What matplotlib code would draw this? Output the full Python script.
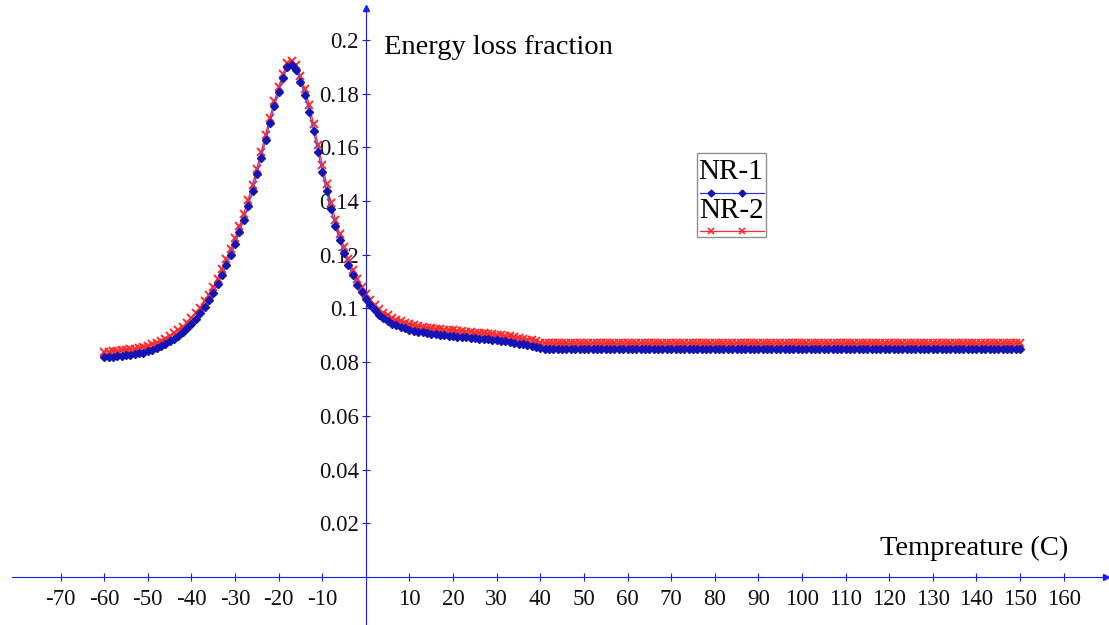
import numpy as np
import matplotlib.pyplot as plt
from matplotlib.lines import Line2D
from matplotlib.patches import Rectangle

plt.rcParams['font.family'] = ['Liberation Serif', 'DejaVu Serif']

# temperature grid, one reading per degree
temps = np.arange(-60, 151)

nr1 = [
    0.0818, 0.0819, 0.0821, 0.0822, 0.0824, 0.0826, 0.0828, 0.0830, 0.0833, 0.0836,
    0.0840, 0.0846, 0.0853, 0.0860, 0.0868, 0.0877, 0.0887, 0.0899, 0.0912, 0.0927,
    0.0944, 0.0962, 0.0982, 0.1005, 0.1030, 0.1059, 0.1090, 0.1125, 0.1162, 0.1198,
    0.1240, 0.1284, 0.1331, 0.1383, 0.1439, 0.1500, 0.1562, 0.1628, 0.1692, 0.1753,
    0.1808, 0.1859, 0.1898, 0.1908, 0.1888, 0.1845, 0.1795, 0.1733, 0.1660, 0.1584,
    0.1510, 0.1436, 0.1369, 0.1307, 0.1254, 0.1206, 0.1162, 0.1124, 0.1088, 0.1060,
    0.1035, 0.1012, 0.0993, 0.0977, 0.0964, 0.0953, 0.0944, 0.0937, 0.0931, 0.0926,
    0.0921, 0.0917, 0.0914, 0.0911, 0.0908, 0.0906, 0.0904, 0.0902, 0.0900, 0.0898,
    0.0897, 0.0895, 0.0894, 0.0892, 0.0891, 0.0889, 0.0888, 0.0886, 0.0885, 0.0883,
    0.0881, 0.0879, 0.0877, 0.0875, 0.0872, 0.0869, 0.0866, 0.0863, 0.0862, 0.0857,
    0.0852,
    0.0850, 0.0850, 0.0850, 0.0850, 0.0850, 0.0850, 0.0850, 0.0850, 0.0850, 0.0850,
    0.0850, 0.0850, 0.0850, 0.0850, 0.0850, 0.0850, 0.0850, 0.0850, 0.0850, 0.0850,
    0.0850, 0.0850, 0.0850, 0.0850, 0.0850, 0.0850, 0.0850, 0.0850, 0.0850, 0.0850,
    0.0850, 0.0850, 0.0850, 0.0850, 0.0850, 0.0850, 0.0850, 0.0850, 0.0850, 0.0850,
    0.0850, 0.0850, 0.0850, 0.0850, 0.0850, 0.0850, 0.0850, 0.0850, 0.0850, 0.0850,
    0.0850, 0.0850, 0.0850, 0.0850, 0.0850, 0.0850, 0.0850, 0.0850, 0.0850, 0.0850,
    0.0850, 0.0850, 0.0850, 0.0850, 0.0850, 0.0850, 0.0850, 0.0850, 0.0850, 0.0850,
    0.0850, 0.0850, 0.0850, 0.0850, 0.0850, 0.0850, 0.0850, 0.0850, 0.0850, 0.0850,
    0.0850, 0.0850, 0.0850, 0.0850, 0.0850, 0.0850, 0.0850, 0.0850, 0.0850, 0.0850,
    0.0850, 0.0850, 0.0850, 0.0850, 0.0850, 0.0850, 0.0850, 0.0850, 0.0850, 0.0850,
    0.0850, 0.0850, 0.0850, 0.0850, 0.0850, 0.0850, 0.0850, 0.0850, 0.0850, 0.0850,
]

nr2 = [
    0.0838, 0.0839, 0.0841, 0.0842, 0.0844, 0.0846, 0.0848, 0.0850, 0.0853, 0.0856,
    0.0860, 0.0866, 0.0873, 0.0880, 0.0888, 0.0897, 0.0907, 0.0919, 0.0932, 0.0947,
    0.0964, 0.0982, 0.1003, 0.1026, 0.1051, 0.1080, 0.1111, 0.1146, 0.1183, 0.1220,
    0.1262, 0.1306, 0.1353, 0.1405, 0.1461, 0.1521, 0.1583, 0.1648, 0.1711, 0.1771,
    0.1825, 0.1875, 0.1913, 0.1923, 0.1906, 0.1866, 0.1818, 0.1758, 0.1686, 0.1610,
    0.1536, 0.1462, 0.1394, 0.1331, 0.1277, 0.1228, 0.1184, 0.1145, 0.1109, 0.1080,
    0.1055, 0.1033, 0.1014, 0.0998, 0.0985, 0.0974, 0.0965, 0.0958, 0.0952, 0.0947,
    0.0942, 0.0938, 0.0935, 0.0932, 0.0929, 0.0927, 0.0925, 0.0923, 0.0921, 0.0919,
    0.0918, 0.0916, 0.0915, 0.0913, 0.0912, 0.0910, 0.0909, 0.0907, 0.0906, 0.0904,
    0.0902, 0.0900, 0.0898, 0.0896, 0.0893, 0.0890, 0.0887, 0.0884, 0.0882, 0.0877,
    0.0873,
    0.0870, 0.0870, 0.0870, 0.0870, 0.0870, 0.0870, 0.0870, 0.0870, 0.0870, 0.0870,
    0.0870, 0.0870, 0.0870, 0.0870, 0.0870, 0.0870, 0.0870, 0.0870, 0.0870, 0.0870,
    0.0870, 0.0870, 0.0870, 0.0870, 0.0870, 0.0870, 0.0870, 0.0870, 0.0870, 0.0870,
    0.0870, 0.0870, 0.0870, 0.0870, 0.0870, 0.0870, 0.0870, 0.0870, 0.0870, 0.0870,
    0.0870, 0.0870, 0.0870, 0.0870, 0.0870, 0.0870, 0.0870, 0.0870, 0.0870, 0.0870,
    0.0870, 0.0870, 0.0870, 0.0870, 0.0870, 0.0870, 0.0870, 0.0870, 0.0870, 0.0870,
    0.0870, 0.0870, 0.0870, 0.0870, 0.0870, 0.0870, 0.0870, 0.0870, 0.0870, 0.0870,
    0.0870, 0.0870, 0.0870, 0.0870, 0.0870, 0.0870, 0.0870, 0.0870, 0.0870, 0.0870,
    0.0870, 0.0870, 0.0870, 0.0870, 0.0870, 0.0870, 0.0870, 0.0870, 0.0870, 0.0870,
    0.0870, 0.0870, 0.0870, 0.0870, 0.0870, 0.0870, 0.0870, 0.0870, 0.0870, 0.0870,
    0.0870, 0.0870, 0.0870, 0.0870, 0.0870, 0.0870, 0.0870, 0.0870, 0.0870, 0.0870,
]

xticks = [-70, -60, -50, -40, -30, -20, -10, 10, 20, 30, 40, 50, 60, 70, 80,
          90, 100, 110, 120, 130, 140, 150, 160]
yticks = [0.02, 0.04, 0.06, 0.08, 0.1, 0.12, 0.14, 0.16, 0.18, 0.2]
ytick_labels = ["0.02", "0.04", "0.06", "0.08", "0.1", "0.12", "0.14", "0.16", "0.18", "0.2"]

W, H = 1109, 625
AXIS_BLUE = "#1a1aff"
DOT_BLUE = "#1414b4"
X_RED = "#ff2a2a"


def px(x, y):
    # pixel position (origin top-left) -> figure fraction
    return x / W, 1 - y / H


fig = plt.figure(figsize=(W / 100, H / 100), dpi=100)
ax = fig.add_axes([0, 0, 1, 1])
ax.set_xlim(-83.9, 170.4)
ax.set_ylim(-0.0179, 0.2149)

ax.plot(temps, nr2, color=X_RED, lw=1.0, marker="x", ms=5.5, mew=1.4, zorder=3)
ax.plot(temps, nr1, color="#5555ee", lw=1.0, marker="D", ms=4.0,
        mfc=DOT_BLUE, mec=DOT_BLUE, zorder=4)

# axes through the origin, with arrow heads
for side in ["top", "right"]:
    ax.spines[side].set_visible(False)
ax.spines["left"].set_position(("data", 0))
ax.spines["bottom"].set_position(("data", 0))
ax.spines["left"].set_color(AXIS_BLUE)
ax.spines["bottom"].set_color(AXIS_BLUE)
ax.spines["bottom"].set_bounds(-81.2, 169.5)
ax.spines["left"].set_bounds(-0.0179, 0.2115)
ax.plot(169.6, 0, marker=">", color=AXIS_BLUE, ms=5, clip_on=False)
ax.plot(0, 0.2118, marker="^", color=AXIS_BLUE, ms=5, clip_on=False)

ax.set_xticks(xticks)
ax.set_xticklabels([str(t) for t in xticks])
ax.set_yticks(yticks)
ax.set_yticklabels(ytick_labels)
ax.tick_params(axis="both", direction="inout", length=6, width=0.8,
               color=AXIS_BLUE, labelsize=16.5, labelcolor="#111111")
ax.tick_params(axis="x", pad=6)
ax.tick_params(axis="y", pad=2)

fig.text(*px(384, 47), "Energy loss fraction", fontsize=20.5, va="center", ha="left")
fig.text(*px(880, 548), "Tempreature (C)", fontsize=20.5, va="center", ha="left")

# boxed legend: name on top, sample line underneath
x0, y0 = px(697, 237)
x1, y1 = px(766, 153)
fig.patches.append(Rectangle((x0, y0), x1 - x0, y1 - y0, transform=fig.transFigure,
                             fill=False, ec="#909090", lw=1))
fig.text(*px(731, 172), "NR-1", fontsize=21, ha="center", va="center")
fig.text(*px(731, 211), "NR-2", fontsize=21, ha="center", va="center")
ly1 = px(0, 193)[1]
ly2 = px(0, 231)[1]
fig.lines.append(Line2D([px(700, 0)[0], px(764, 0)[0]], [ly1, ly1], transform=fig.transFigure,
                        color="#3030ee", lw=0.9))
fig.lines.append(Line2D([px(711, 0)[0], px(742, 0)[0]], [ly1, ly1], transform=fig.transFigure,
                        ls="none", marker="D", ms=3.5, mfc=DOT_BLUE, mec=DOT_BLUE))
fig.lines.append(Line2D([px(700, 0)[0], px(764, 0)[0]], [ly2, ly2], transform=fig.transFigure,
                        color=X_RED, lw=0.9))
fig.lines.append(Line2D([px(711, 0)[0], px(742, 0)[0]], [ly2, ly2], transform=fig.transFigure,
                        ls="none", marker="x", ms=4.5, mew=1.2, color=X_RED))

fig.savefig("out.png", dpi=100)
